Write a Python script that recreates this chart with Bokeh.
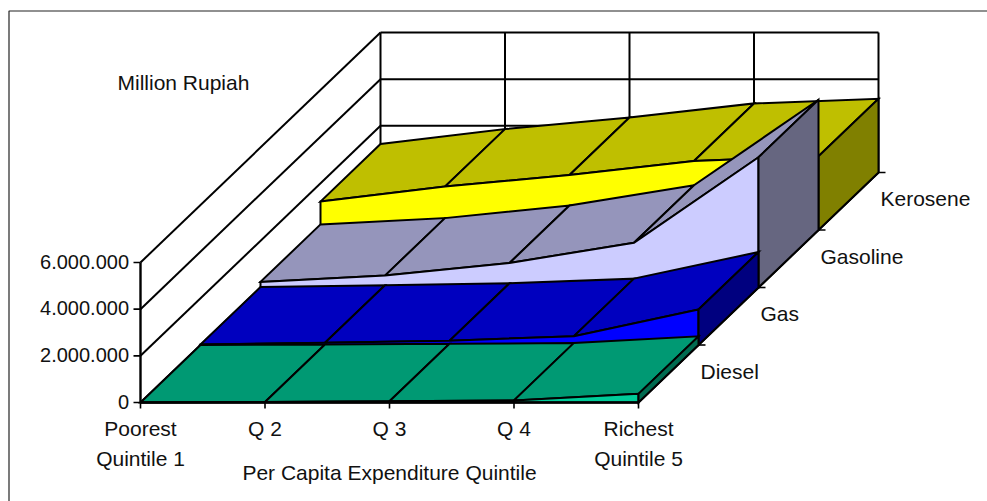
from bokeh.core.properties import value
from bokeh.embed import file_html
from bokeh.models import ColumnDataSource
from bokeh.plotting import figure
from bokeh.resources import INLINE

# Household fuel spending by per capita expenditure quintile, in rupiah
quintile_labels = ["Poorest", "Q 2", "Q 3", "Q 4", "Richest"]
quintile_sublabels = ["Quintile 1", "", "", "", "Quintile 5"]
series_names = ["Diesel", "Gas", "Gasoline", "Kerosene"]
diesel = [0, 20000, 50000, 90000, 370000]
gas = [20000, 100000, 180000, 380000, 1520000]
gasoline = [240000, 510000, 1050000, 1920000, 5580000]
kerosene = [1220000, 1860000, 2360000, 2960000, 3160000]
value_ticks = [0, 2000000, 4000000, 6000000]
value_tick_labels = ["0", "2.000.000", "4.000.000", "6.000.000"]
top_colors = ["#009973", "#0000BF", "#9595BB", "#BFBF00"]
front_colors = ["#00CC99", "#0000FF", "#CCCCFF", "#FFFF00"]
side_colors = ["#006B50", "#00007F", "#666680", "#808000"]

series_values = [diesel, gas, gasoline, kerosene]

# Oblique projection of (quintile, series depth, value) on to the canvas
ORIGIN_X, ORIGIN_Y = 140.0, 402.0
STEP_Q = 124.5
DEPTH_X, DEPTH_Y = 60.0, 57.5
PX_PER_RUPIAH = 140.0 / 6000000


def project(q, d, v=0.0):
    return (ORIGIN_X + STEP_Q * q + DEPTH_X * d,
            ORIGIN_Y - DEPTH_Y * d - PX_PER_RUPIAH * v)


p = figure(width=987, height=501, x_range=(0, 987), y_range=(501, 0),
           output_backend="svg", toolbar_location=None, min_border=0,
           background_fill_color="white", border_fill_color="white")
p.axis.visible = False
p.grid.visible = False
p.outline_line_color = None

INK = "#000000"
LW = 2.0
FONT = value("Liberation Sans")


def seg(a, b, width=LW, color=INK):
    p.line([a[0], b[0]], [a[1], b[1]], line_color=color, line_width=width)


def poly(points, fill):
    p.patch([pt[0] for pt in points], [pt[1] for pt in points], fill_color=fill,
            line_color=INK, line_width=LW, line_join="miter")


def label(x, y, text, align="left", size="21px"):
    src = ColumnDataSource(dict(x=[x], y=[y], t=[text]))
    p.text("x", "y", "t", source=src, text_font=FONT, text_font_size=value(size),
           text_color="#111111", text_align=align, text_baseline="middle")


# Outer chart frame
p.line([8.5, 8.5, 987], [501, 10.5, 10.5], line_color="#222222", line_width=1.2)

n_depth = len(series_names)
n_q = len(quintile_labels)

# Value grid on the left and back walls
for tick in value_ticks:
    seg(project(0, 0, tick), project(0, n_depth, tick))
    seg(project(0, n_depth, tick), project(n_q - 1, n_depth, tick))
for q in range(n_q):
    seg(project(q, n_depth, 0), project(q, n_depth, value_ticks[-1]))
seg(project(0, 0, 0), project(0, 0, value_ticks[-1]), width=2.4)

# Floor edge on the right-hand side
seg(project(n_q - 1, 0), project(n_q - 1, n_depth), width=2.2)

# Ribbons are painted from the back series to the front one
for d in reversed(range(n_depth)):
    vals = series_values[d]
    for q in range(n_q - 1):
        poly([project(q, d, vals[q]), project(q + 1, d, vals[q + 1]),
              project(q + 1, d + 1, vals[q + 1]), project(q, d + 1, vals[q])],
             top_colors[d])
    front = [project(q, d, vals[q]) for q in range(n_q)]
    front += [project(n_q - 1, d), project(0, d)]
    poly(front, front_colors[d])
    poly([project(n_q - 1, d), project(n_q - 1, d, vals[-1]),
          project(n_q - 1, d + 1, vals[-1]), project(n_q - 1, d + 1)],
         side_colors[d])

# Axes and their tick marks
seg(project(0, 0), project(n_q - 1, 0), width=2.6)
for tick, text in zip(value_ticks, value_tick_labels):
    x, y = project(0, 0, tick)
    seg((x - 7, y), (x, y), width=1.6)
    label(x - 11.5, y - 1, text, "right", size="20px")
for q, (text, sub) in enumerate(zip(quintile_labels, quintile_sublabels)):
    x, y = project(q, 0)
    seg((x, y), (x, y + 6), width=1.6)
    label(x, y + 26, text, "center")
    if sub:
        label(x, y + 56, sub, "center")
for d, name in enumerate(series_names):
    x, y = project(n_q - 1, d + 1)
    seg((x, y), (x + 7, y), width=1.6)
    label(x + 2, y + 26, name)

axis_x, axis_y = project((n_q - 1) / 2, 0)
label(axis_x, axis_y + 70, "Per Capita Expenditure Quintile", "center")
label(117, 82, "Million Rupiah")

open("out.html", "w").write(file_html(p, INLINE))
